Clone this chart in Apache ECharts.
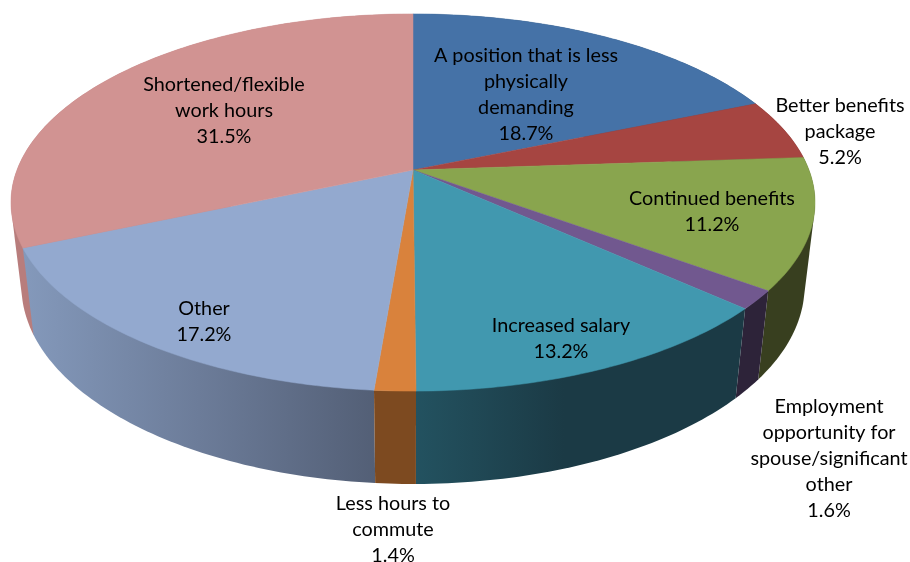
<!DOCTYPE html>
<html>
<head>
<meta charset="utf-8">
<style>html,body{margin:0;padding:0;background:#fff;overflow:hidden}#c{width:910px;height:562px}</style>
<script src="https://cdn.jsdelivr.net/npm/echarts@6/dist/echarts.min.js"></script>
</head>
<body>
<div id="c"></div>
<script>
// Data, clockwise from 12 o'clock
var categories = [
  'A position that is less\nphysically\ndemanding',
  'Better benefits\npackage',
  'Continued benefits',
  'Employment\nopportunity for\nspouse/significant\nother',
  'Increased salary',
  'Less hours to\ncommute',
  'Other',
  'Shortened/flexible\nwork hours'
];
var shares = [18.7, 5.2, 11.2, 1.6, 13.2, 1.4, 17.2, 31.5];

// Styles
var topColors = ['#4572A7','#A64541','#89A54E','#71588F','#4198AF','#D9823C','#93A9CF','#D19392'];
var sideLeft  = ['#2a4565','#672a28','#383f1f','#2d2339','#235260','#7d4a20','#8499bb','#b87d7c'];
var sideRight = ['#2a4565','#672a28','#383f1f','#2d2339','#1b3a45','#7d4a20','#535f76','#b87d7c'];
var sideMid   = [0.5, 0.5, 0.5, 0.5, 0.45, 0.5, 0.5, 0.5];
// Label block centres
var labelX = [526, 840, 712, 829, 561, 393, 204, 224];
var labelY = [95, 132, 212, 459, 339, 530, 322, 111];

// Perspective pie geometry
var CX = 413, CY = 170, A = 396, B = 183, K = 0.1724, DROP = 85, SHRINK = 0.026;
function project(deg, low) {
  var t = deg * Math.PI / 180, sx = Math.sin(t), cy = Math.cos(t);
  var w = 1 + K * cy + (low ? SHRINK : 0);
  return [CX + A * sx / w, CY + (-B * cy + (low ? DROP : 0)) / w];
}
function arc(a0, a1, low) {
  var n = Math.max(2, Math.ceil(Math.abs(a1 - a0) / 1)), pts = [];
  for (var i = 0; i <= n; i++) pts.push(project(a0 + (a1 - a0) * i / n, low));
  return pts;
}
function hull(points) {
  var p = points.slice().sort(function (a, b) { return a[0] - b[0] || a[1] - b[1]; });
  function cross(o, a, b) { return (a[0] - o[0]) * (b[1] - o[1]) - (a[1] - o[1]) * (b[0] - o[0]); }
  var lower = [], upper = [], i;
  for (i = 0; i < p.length; i++) {
    while (lower.length > 1 && cross(lower[lower.length - 2], lower[lower.length - 1], p[i]) <= 0) lower.pop();
    lower.push(p[i]);
  }
  for (i = p.length - 1; i >= 0; i--) {
    while (upper.length > 1 && cross(upper[upper.length - 2], upper[upper.length - 1], p[i]) <= 0) upper.pop();
    upper.push(p[i]);
  }
  return lower.slice(0, -1).concat(upper.slice(0, -1));
}
var ranges = [], cum = 0, total = shares.reduce(function (s, v) { return s + v; }, 0);
shares.forEach(function (v) {
  ranges.push([cum / total * 360, (cum + v) / total * 360]);
  cum += v;
});

function renderSide(params) {
  var i = params.dataIndex, r = ranges[i];
  var pts = hull(arc(r[0], r[1], false).concat(arc(r[0], r[1], true)));
  var xs = pts.map(function (p) { return p[0]; });
  var x0 = Math.min.apply(null, xs), x1 = Math.max.apply(null, xs);
  var fill = new echarts.graphic.LinearGradient(x0, 0, x1, 0, [
    { offset: 0, color: sideLeft[i] },
    { offset: sideMid[i], color: i === 4 ? sideRight[i] : echarts.color.lerp(0.5, [sideLeft[i], sideRight[i]]) },
    { offset: 1, color: sideRight[i] }
  ], true);
  // slices nearest the viewer are painted last
  var mid = (r[0] + r[1]) / 2;
  return { type: 'polygon', silent: true, z2: Math.round(180 - Math.abs(mid - 180)),
    shape: { points: pts }, style: { fill: fill } };
}
function renderTop(params) {
  var i = params.dataIndex, r = ranges[i];
  var pts = [[CX, CY]].concat(arc(r[0], r[1], false));
  return { type: 'polygon', shape: { points: pts },
    style: { fill: topColors[i], stroke: topColors[i], lineWidth: 0.5 }, silent: true };
}
function renderLabel(params) {
  var i = params.dataIndex;
  return { type: 'text', silent: true, style: {
    text: categories[i] + '\n' + shares[i].toFixed(1) + '%',
    x: labelX[i], y: labelY[i], align: 'center', verticalAlign: 'middle',
    fill: '#000', fontFamily: 'Lato', fontSize: 19.8, lineHeight: 26
  } };
}
var chart = echarts.init(document.getElementById('c'), null, { renderer: 'canvas' });
chart.setOption({
  animation: false,
  backgroundColor: '#fff',
  series: [
    { type: 'custom', coordinateSystem: 'none', z: 1, data: shares, renderItem: renderSide },
    { type: 'custom', coordinateSystem: 'none', z: 2, data: shares, renderItem: renderTop },
    { type: 'custom', coordinateSystem: 'none', z: 3, data: shares, renderItem: renderLabel }
  ]
});
</script>
</body>
</html>
